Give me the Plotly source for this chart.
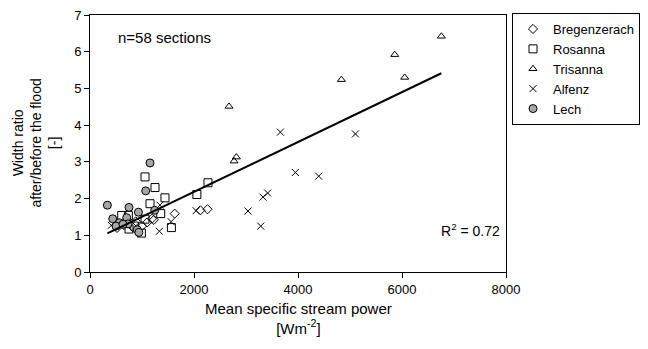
import plotly.graph_objects as go

# ---- data ----
breg_x = [1228, 1629, 2123, 2260, 1192, 520, 650, 820, 880, 1000, 1100]
breg_y = [1.42, 1.59, 1.68, 1.71, 1.45, 1.20, 1.28, 1.22, 1.38, 1.25, 1.35]

ros_x = [1058, 1250, 1442, 1154, 1360, 610, 738, 1058, 1565, 750, 988, 2055, 2269, 860]
ros_y = [2.59, 2.30, 2.02, 1.86, 1.59, 1.54, 1.54, 1.44, 1.21, 1.17, 1.06, 2.11, 2.43, 1.25]

tri_x = [2673, 2770, 2815, 4834, 5860, 6052, 6757]
tri_y = [4.51, 3.02, 3.13, 5.24, 5.92, 5.30, 6.42]

alf_x = [3661, 5104, 3950, 4398, 3417, 3327, 3038, 3283, 2040, 1345, 1335, 1560, 410]
alf_y = [3.81, 3.76, 2.71, 2.61, 2.15, 2.04, 1.66, 1.25, 1.67, 1.82, 1.11, 1.37, 1.27]

lech_x = [334, 750, 931, 1154, 1071, 1244, 437, 706, 564, 500, 731, 908, 940, 635]
lech_y = [1.82, 1.76, 1.63, 2.97, 2.21, 1.68, 1.45, 1.48, 1.34, 1.25, 1.31, 1.15, 1.08, 1.30]

trend_slope = 0.000679
trend_intercept = 0.825
r_squared = 0.72
n_sections = 58

x_ticks = [0, 2000, 4000, 6000, 8000]
y_ticks = [0, 1, 2, 3, 4, 5, 6, 7]

FONT = "Liberation Sans, Arial, sans-serif"

fig = go.Figure()

series = [
    ("Bregenzerach", breg_x, breg_y, "diamond-open", 7, "black"),
    ("Rosanna", ros_x, ros_y, "square-open", 8, "black"),
    ("Trisanna", tri_x, tri_y, "triangle-up-open", 7, "black"),
    ("Alfenz", alf_x, alf_y, "x-thin-open", 7, "black"),
    ("Lech", lech_x, lech_y, "circle", 8, "#a6a6a6"),
]
for name, xs, ys, sym, size, col in series:
    fig.add_trace(go.Scatter(
        x=xs, y=ys, mode="markers", name=name,
        marker=dict(symbol=sym, size=size, color=col,
                    line=dict(color="black", width=1)),
    ))

all_x = breg_x + ros_x + tri_x + alf_x + lech_x
x0, x1 = min(all_x), max(all_x)
fig.add_trace(go.Scatter(
    x=[x0, x1], y=[trend_intercept + trend_slope * x0, trend_intercept + trend_slope * x1],
    mode="lines", line=dict(color="black", width=2), showlegend=False, hoverinfo="skip",
))

axis_common = dict(showline=True, linecolor="black", linewidth=1, mirror=True,
                   ticks="outside", ticklen=5, tickcolor="black", showgrid=False,
                   zeroline=False, tickfont=dict(family=FONT, size=13, color="black"))

fig.update_layout(
    width=648, height=349,
    margin=dict(l=90, r=142, t=15, b=77, autoexpand=False),
    plot_bgcolor="white", paper_bgcolor="white",
    font=dict(family=FONT, size=13, color="black"),
    xaxis=dict(range=[0, 8000], tickvals=x_ticks, **axis_common),
    yaxis=dict(range=[0, 7], tickvals=y_ticks, **axis_common),
    legend=dict(x=(512 - 90) / 416, y=(272 - 13) / 257, xanchor="left", yanchor="top",
                bordercolor="black", borderwidth=1, bgcolor="white",
                font=dict(family=FONT, size=13, color="black"),
                tracegroupgap=0, itemwidth=30),
    annotations=[
        dict(text=f"n={n_sections} sections", x=1442, y=6.40, xref="x", yref="y",
             xanchor="center", yanchor="middle", showarrow=False,
             font=dict(family=FONT, size=15)),
        dict(text=f"R<sup>2</sup> = {r_squared:.2f}", x=7917, y=1.15, xref="x", yref="y",
             xanchor="right", yanchor="middle", showarrow=False,
             font=dict(family=FONT, size=14)),
        dict(text="Width ratio<br>after/before the flood<br>[-]", textangle=-90,
             x=(35 - 90) / 416, y=0.5, xref="paper", yref="paper",
             xanchor="center", yanchor="middle", showarrow=False,
             font=dict(family=FONT, size=14)),
        dict(text="Mean specific stream power<br>[Wm<sup>-2</sup>]",
             x=0.5, y=-0.1, xref="paper", yref="paper",
             xanchor="center", yanchor="top", showarrow=False,
             font=dict(family=FONT, size=15)),
    ],
)

fig.write_html("out.html")
